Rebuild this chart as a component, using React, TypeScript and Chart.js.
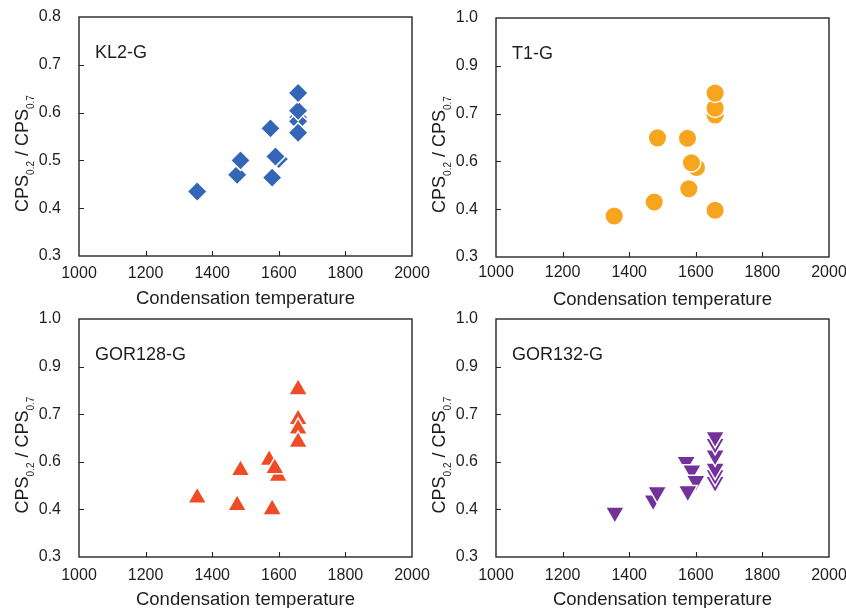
import React, { useEffect, useRef } from 'react';
import { Chart, registerables } from 'chart.js';

Chart.register(...registerables);

const FONT = '"Liberation Sans", Arial, Helvetica, sans-serif';
const TEXT = '#1e1e1e';

const xTicks = [1000, 1200, 1400, 1600, 1800, 2000];
const yTicksKL2 = [0.3, 0.4, 0.5, 0.6, 0.7, 0.8];
const yTicksWide = [0.3, 0.44, 0.58, 0.72, 0.86, 1.0];

const kl2X = [1355, 1475, 1485, 1600, 1590, 1575, 1580, 1658, 1658, 1658, 1658, 1658];
const kl2Y = [0.435, 0.470, 0.500, 0.503, 0.508, 0.567, 0.464, 0.590, 0.582, 0.604, 0.641, 0.558];

const t1X = [1355, 1475, 1485, 1575, 1579, 1602, 1587, 1658, 1658, 1658, 1658];
const t1Y = [0.420, 0.461, 0.649, 0.648, 0.500, 0.562, 0.576, 0.716, 0.736, 0.780, 0.437];

const g128X = [1355, 1475, 1485, 1598, 1571, 1588, 1580, 1658, 1658, 1658, 1658];
const g128Y = [0.474, 0.452, 0.555, 0.538, 0.585, 0.561, 0.440, 0.705, 0.677, 0.638, 0.793];

const g132X = [1357, 1472, 1484, 1571, 1588, 1600, 1576, 1658, 1658, 1658, 1658, 1658, 1658];
const g132Y = [0.431, 0.467, 0.491, 0.580, 0.555, 0.524, 0.494, 0.521, 0.541, 0.560, 0.599, 0.633, 0.653];

const xTitle = 'Condensation temperature';

type PanelDef = {
  label: string;
  xs: number[];
  ys: number[];
  yMin: number;
  yMax: number;
  yTicks: number[];
  color: string;
  style: string;
  rotation: number;
  radius: number;
  left: number;
  top: number;
  w: number;
  h: number;
  L: number;
  R: number;
  T: number;
  B: number;
  tickPad: number;
};

const panels: PanelDef[] = [
  { label: 'KL2-G', xs: kl2X, ys: kl2Y, yMin: 0.3, yMax: 0.8, yTicks: yTicksKL2, color: '#3366B6', style: 'rectRot', rotation: 0, radius: 10, left: 0, top: 0, w: 445, h: 318, L: 79, R: 412, T: 17, B: 256, tickPad: 8 },
  { label: 'T1-G', xs: t1X, ys: t1Y, yMin: 0.3, yMax: 1.0, yTicks: yTicksWide, color: '#F7A51F', style: 'circle', rotation: 0, radius: 9.3, left: 423, top: 0, w: 423, h: 318, L: 73, R: 406, T: 18, B: 257, tickPad: 6 },
  { label: 'GOR128-G', xs: g128X, ys: g128Y, yMin: 0.3, yMax: 1.0, yTicks: yTicksWide, color: '#EF4B27', style: 'triangle', rotation: 0, radius: 11, left: 0, top: 304, w: 445, h: 304, L: 79, R: 412, T: 15, B: 253, tickPad: 9 },
  { label: 'GOR132-G', xs: g132X, ys: g132Y, yMin: 0.3, yMax: 1.0, yTicks: yTicksWide, color: '#74309B', style: 'triangle', rotation: 180, radius: 11, left: 423, top: 304, w: 423, h: 304, L: 73, R: 406, T: 15, B: 253, tickPad: 9 },
];

const decorPlugin = {
  id: 'decor',
  afterDraw(chart: any) {
    const o = chart.options.plugins.decor;
    const { ctx, chartArea: a } = chart;
    const xs = chart.scales.x;
    const ys = chart.scales.y;
    ctx.save();
    // frame
    ctx.strokeStyle = '#262626';
    ctx.lineWidth = 1.4;
    ctx.strokeRect(a.left, a.top, a.right - a.left, a.bottom - a.top);
    // inward tick marks
    ctx.lineWidth = 1.1;
    ctx.beginPath();
    o.xTicks.slice(1, -1).forEach((v: number) => {
      const px = Math.round(xs.getPixelForValue(v)) + 0.5;
      ctx.moveTo(px, a.bottom);
      ctx.lineTo(px, a.bottom - 5);
    });
    o.yTicks.slice(1, -1).forEach((v: number) => {
      const py = Math.round(ys.getPixelForValue(v)) + 0.5;
      ctx.moveTo(a.left, py);
      ctx.lineTo(a.left + 5, py);
    });
    ctx.stroke();
    // panel label
    ctx.fillStyle = TEXT;
    ctx.font = `18px ${FONT}`;
    ctx.textAlign = 'left';
    ctx.textBaseline = 'alphabetic';
    ctx.fillText(o.label, a.left + 16, a.top + 41);
    // x title
    ctx.font = `18.5px ${FONT}`;
    ctx.textAlign = 'center';
    ctx.textBaseline = 'middle';
    ctx.fillText(o.xTitle, (a.left + a.right) / 2, a.bottom + 43);
    // y title with subscripts
    const parts: [string, number, number][] = [
      ['CPS', 18, 0],
      ['0.2', 10, 6],
      [' / CPS', 18, 0],
      ['0.7', 10, 6],
    ];
    let total = 0;
    const widths = parts.map(([t, s]) => {
      ctx.font = `${s}px ${FONT}`;
      const w = ctx.measureText(t).width;
      total += w;
      return w;
    });
    ctx.translate(a.left - 51, (a.top + a.bottom) / 2 + 17);
    ctx.rotate(-Math.PI / 2);
    ctx.textAlign = 'left';
    ctx.textBaseline = 'alphabetic';
    let x = -total / 2;
    parts.forEach(([t, s, dy], i) => {
      ctx.font = `${s}px ${FONT}`;
      ctx.fillText(t, x, dy);
      x += widths[i];
    });
    ctx.restore();
  },
};

function Panel({ def }: { def: PanelDef }) {
  const ref = useRef<HTMLCanvasElement | null>(null);
  useEffect(() => {
    if (!ref.current) return;
    const points = def.xs.map((x, i) => ({ x, y: def.ys[i] }));
    const chart = new Chart(ref.current, {
      type: 'scatter',
      data: {
        datasets: [
          {
            label: def.label,
            data: points,
            pointStyle: def.style as any,
            rotation: def.rotation,
            pointRadius: def.radius,
            pointHoverRadius: def.radius,
            backgroundColor: def.color,
            borderColor: '#ffffff',
            borderWidth: 1.5,
          } as any,
        ],
      },
      options: {
        animation: false,
        responsive: false,
        events: [],
        layout: { padding: { left: 0, top: def.T, right: def.w - def.R, bottom: 0 } },
        plugins: {
          legend: { display: false },
          tooltip: { enabled: false },
          decor: { label: def.label, xTicks, yTicks: def.yTicks, xTitle },
        } as any,
        scales: {
          x: {
            type: 'linear',
            min: 1000,
            max: 2000,
            grid: { display: false, drawTicks: false },
            border: { display: false },
            afterBuildTicks: (s: any) => {
              s.ticks = xTicks.map((v) => ({ value: v }));
            },
            afterFit: (s: any) => {
              s.height = def.h - def.B;
              s.paddingLeft = 0;
              s.paddingRight = 0;
            },
            ticks: {
              padding: def.tickPad,
              maxRotation: 0,
              autoSkip: false,
              color: TEXT,
              font: { family: FONT, size: 16 },
              callback: (v: any) => String(v),
            },
          },
          y: {
            type: 'linear',
            min: def.yMin,
            max: def.yMax,
            grid: { display: false, drawTicks: false },
            border: { display: false },
            afterBuildTicks: (s: any) => {
              s.ticks = def.yTicks.map((v) => ({ value: v }));
            },
            afterFit: (s: any) => {
              s.width = def.L;
              s.paddingTop = 0;
              s.paddingBottom = 0;
            },
            ticks: {
              padding: 18,
              autoSkip: false,
              color: TEXT,
              font: { family: FONT, size: 16 },
              callback: (v: any) => Number(v).toFixed(1),
            },
          },
        },
      },
      plugins: [decorPlugin],
    } as any);
    return () => chart.destroy();
  }, [def]);
  return (
    <canvas
      ref={ref}
      width={def.w}
      height={def.h}
      style={{ position: 'absolute', left: def.left, top: def.top, width: def.w, height: def.h }}
    />
  );
}

export default function App() {
  return (
    <div style={{ position: 'fixed', left: 0, top: 0, width: 846, height: 608, background: '#ffffff', overflow: 'hidden' }}>
      {panels.map((p) => (
        <Panel key={p.label} def={p} />
      ))}
    </div>
  );
}
